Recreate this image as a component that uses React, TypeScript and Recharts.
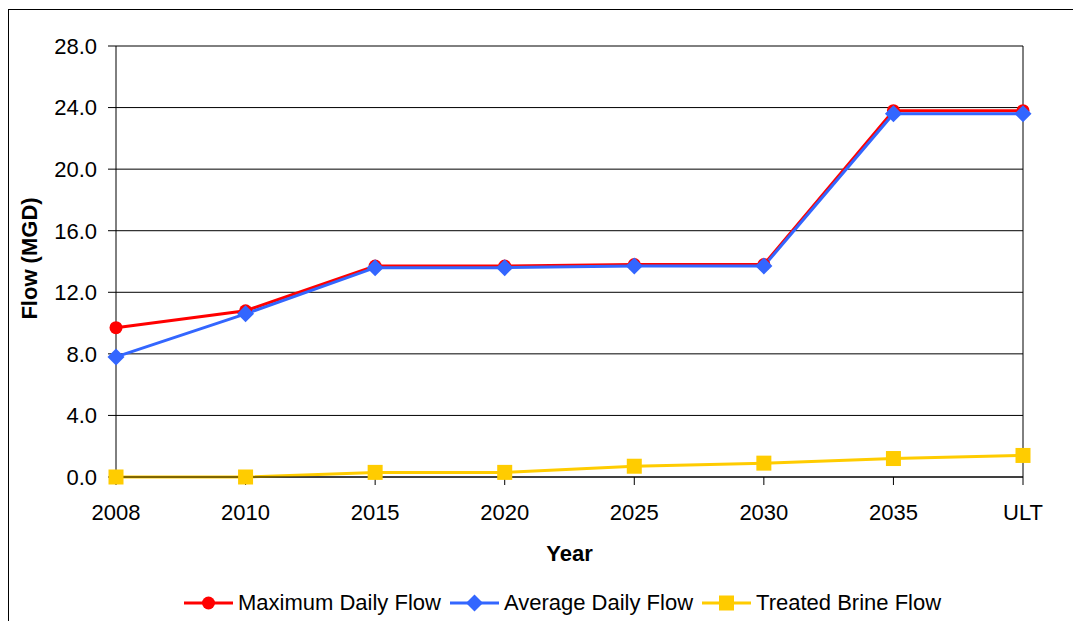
import React from "react";
import { LineChart, Line, XAxis, YAxis, CartesianGrid, ReferenceLine, Label } from "recharts";

// Projection years
const years = ["2008", "2010", "2015", "2020", "2025", "2030", "2035", "ULT"];

// Flows in MGD
const maximumDailyFlow = [9.7, 10.8, 13.7, 13.7, 13.8, 13.8, 23.8, 23.8];
const averageDailyFlow = [7.8, 10.6, 13.6, 13.6, 13.7, 13.7, 23.6, 23.6];
const treatedBrineFlow = [0.0, 0.0, 0.3, 0.3, 0.7, 0.9, 1.2, 1.4];

const yTicks = [0, 4, 8, 12, 16, 20, 24, 28];

const seriesInfo = [
  { key: "max", name: "Maximum Daily Flow", color: "#FF0000", marker: "circle" },
  { key: "avg", name: "Average Daily Flow", color: "#3366FF", marker: "diamond" },
  { key: "brine", name: "Treated Brine Flow", color: "#FFCC00", marker: "square" },
];

const data = years.map((year, i) => ({
  year,
  max: maximumDailyFlow[i],
  avg: averageDailyFlow[i],
  brine: treatedBrineFlow[i],
}));

const FONT = '"Liberation Sans", Arial, sans-serif';

function Marker({ type, cx, cy, color }: { type: string; cx: number; cy: number; color: string }) {
  if (cx == null || cy == null) return null;
  if (type === "circle") return <circle cx={cx} cy={cy} r={6.5} fill={color} stroke="none" />;
  if (type === "diamond") {
    const h = 8.5;
    return (
      <polygon
        points={`${cx},${cy - h} ${cx + h},${cy} ${cx},${cy + h} ${cx - h},${cy}`}
        fill={color}
        stroke="none"
      />
    );
  }
  const s = 7.5;
  return <rect x={cx - s} y={cy - s} width={s * 2} height={s * 2} fill={color} stroke="none" />;
}

function LegendIcon({ type, color }: { type: string; color: string }) {
  return (
    <svg width={49} height={20} style={{ display: "block" }}>
      <line x1={0} y1={10} x2={49} y2={10} stroke={color} strokeWidth={3} />
      <Marker type={type} cx={24.5} cy={10} color={color} />
    </svg>
  );
}

export default function App() {
  return (
    <div
      style={{
        position: "absolute",
        left: 0,
        top: 0,
        width: 1073,
        height: 621,
        overflow: "hidden",
        background: "#fff",
        fontFamily: FONT,
      }}
    >
      <div
        style={{
          position: "absolute",
          left: 8,
          top: 9,
          width: 1090,
          height: 640,
          border: "1px solid #000",
          boxSizing: "border-box",
        }}
      />
      <div style={{ position: "absolute", left: 0, top: 0 }}>
        <LineChart
          width={1073}
          height={621}
          data={data}
          margin={{ top: 46, right: 50, bottom: 0, left: 0 }}
          style={{ fontFamily: FONT }}
        >
          <CartesianGrid vertical={false} stroke="#000" strokeWidth={1} />
          <ReferenceLine x="ULT" stroke="#000" strokeWidth={1} />
          <XAxis
            dataKey="year"
            height={144}
            tickSize={8}
            tickMargin={19}
            axisLine={{ stroke: "#000" }}
            tickLine={{ stroke: "#000" }}
            tick={{ fill: "#000", fontSize: 22, fontFamily: FONT }}
            interval={0}
          >
            <Label
              value="Year"
              position="insideTop"
              offset={68}
              style={{ fill: "#000", fontSize: 22, fontWeight: "bold", fontFamily: FONT }}
            />
          </XAxis>
          <YAxis
            width={116}
            domain={[0, 28]}
            ticks={yTicks}
            interval={0}
            tickSize={8}
            tickMargin={11}
            tickFormatter={(v: number) => v.toFixed(1)}
            axisLine={{ stroke: "#000" }}
            tickLine={{ stroke: "#000" }}
            tick={{ fill: "#000", fontSize: 22, fontFamily: FONT }}
          >
            <Label
              content={(props: any) => {
                const vb = props.viewBox || { x: 0, y: 46, width: 116, height: 431 };
                const x = vb.x + 37;
                const y = vb.y + vb.height / 2 - 3;
                return (
                  <text
                    x={x}
                    y={y}
                    transform={`rotate(-90 ${x} ${y})`}
                    textAnchor="middle"
                    fill="#000"
                    fontSize={22}
                    fontWeight="bold"
                    fontFamily={FONT}
                  >
                    Flow (MGD)
                  </text>
                );
              }}
            />
          </YAxis>
          {seriesInfo.map((s) => (
            <Line
              key={s.key}
              type="linear"
              dataKey={s.key}
              name={s.name}
              stroke={s.color}
              strokeWidth={3}
              isAnimationActive={false}
              dot={(p: any) => (
                <Marker key={`${s.key}-${p.index}`} type={s.marker} cx={p.cx} cy={p.cy} color={s.color} />
              )}
              activeDot={false}
            />
          ))}
        </LineChart>
      </div>
      <div
        style={{
          position: "absolute",
          left: 184,
          top: 590,
          height: 26,
          display: "flex",
          alignItems: "center",
          fontSize: 22,
          color: "#000",
          whiteSpace: "nowrap",
        }}
      >
        {seriesInfo.map((s) => (
          <div key={s.key} style={{ display: "flex", alignItems: "center", marginRight: 9 }}>
            <LegendIcon type={s.marker} color={s.color} />
            <span style={{ marginLeft: 5, lineHeight: "26px" }}>{s.name}</span>
          </div>
        ))}
      </div>
    </div>
  );
}
